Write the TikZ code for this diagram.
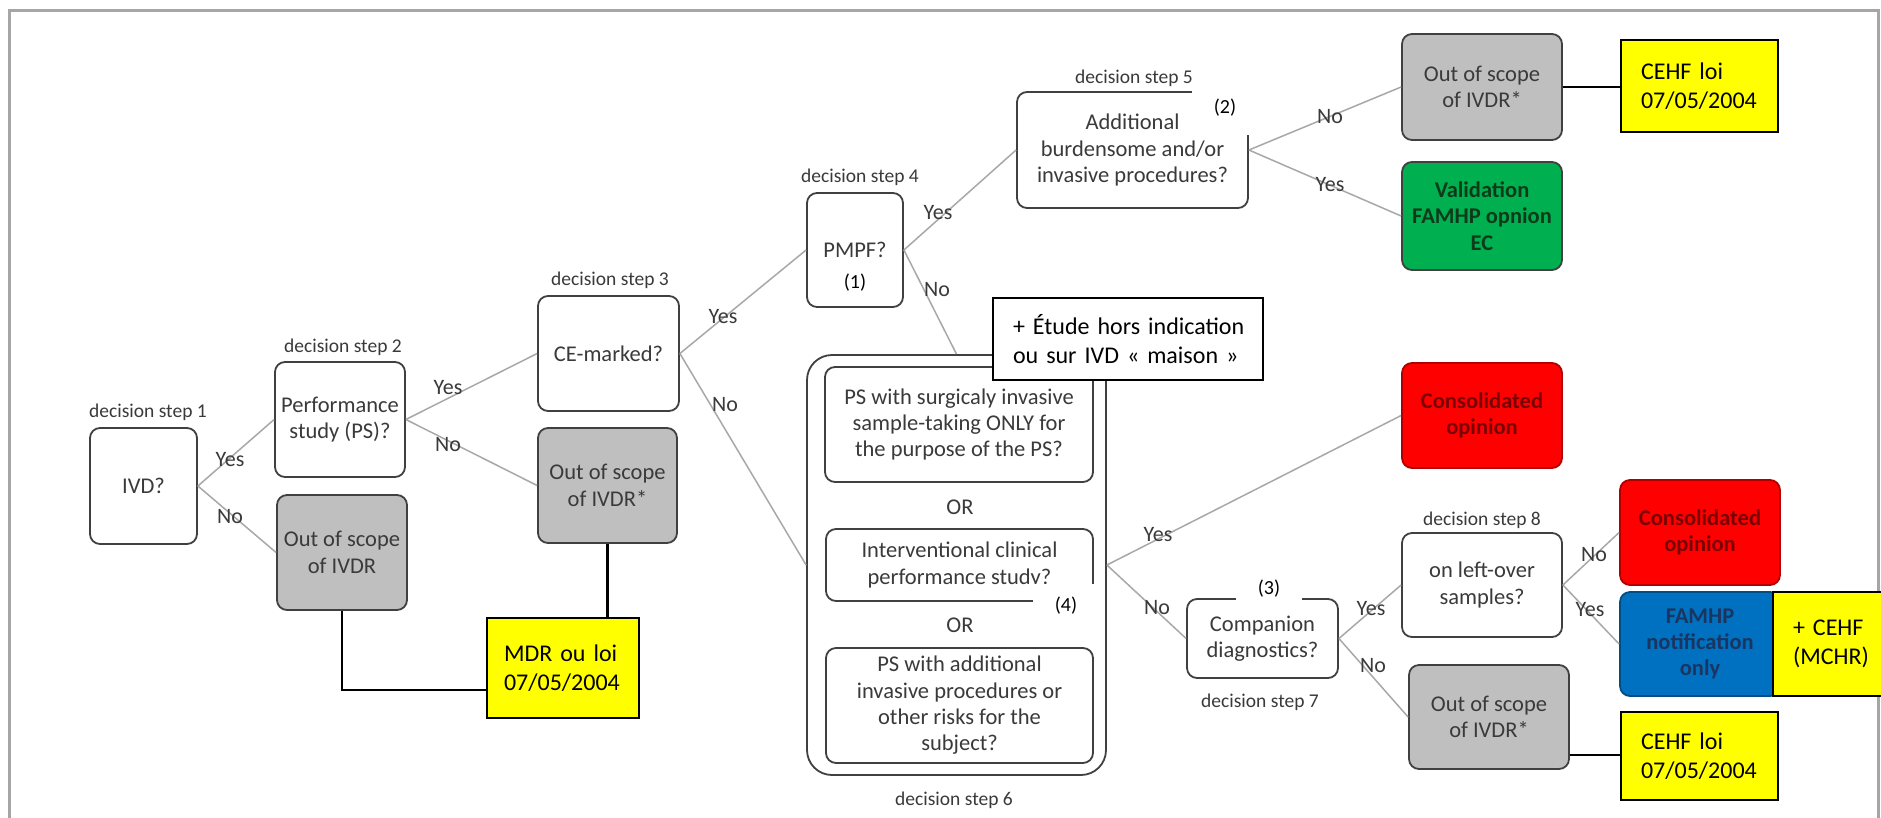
\documentclass[tikz,border=0pt]{standalone}
\usepackage{fontspec}
\setmainfont{Carlito}
\definecolor{framec}{HTML}{A6A6A6}
\definecolor{bordc}{HTML}{404040}
\definecolor{linec}{HTML}{A8A8A8}
\definecolor{txtc}{HTML}{3A3A3A}
\definecolor{grayf}{HTML}{BFBFBF}
\definecolor{greenf}{HTML}{00B050}
\definecolor{greent}{HTML}{0D3B1A}
\definecolor{redf}{HTML}{FF0000}
\definecolor{redt}{HTML}{7A0000}
\definecolor{bluef}{HTML}{0070C0}
\definecolor{bluet}{HTML}{1A3560}
\definecolor{yellowf}{HTML}{FFFF00}
\newcommand{\fsmain}{\fontsize{22.5}{26.3}\selectfont}
\newcommand{\fslab}{\fontsize{19.5}{22}\selectfont}
\newcommand{\fsyn}{\fontsize{22}{24}\selectfont}
\newcommand{\fsnote}{\fontsize{24}{29.5}\selectfont}
\newcommand{\fsnum}{\fontsize{20}{22}\selectfont}
\tikzset{
  box/.style={draw=bordc, line width=1.8pt, rounded corners=10pt, fill=white,
    align=center, inner sep=0pt, text=txtc, font=\fsmain},
  sz/.style 2 args={minimum width=#1pt, minimum height=#2pt},
  grb/.style={box, fill=grayf},
  grnb/.style={box, fill=greenf, text=greent, font=\fsmain\bfseries},
  redb/.style={box, fill=redf, draw=redf!70!black, text=redt, font=\fsmain\bfseries},
  blub/.style={box, fill=bluef, draw=bluef!70!black, text=bluet, font=\fsmain\bfseries},
  steplab/.style={font=\fslab, text=txtc, inner sep=0pt},
  yn/.style={font=\fsyn, text=txtc, inner sep=0pt},
  ortxt/.style={font=\fsmain, text=txtc, inner sep=0pt},
  conn/.style={draw=linec, line width=1.5pt},
  blk/.style={draw=black, line width=2.5pt},
  ybox/.style={draw=black, line width=1.3pt, fill=yellowf, align=left,
    inner ysep=0pt, font=\fsnote, text=black},
  patch/.style={fill=white, inner sep=0pt, font=\fsnum, text=black},
}
\begin{document}
\begin{tikzpicture}[x=1pt,y=-1pt]
\useasboundingbox (0,0) rectangle (1881,817);
\fill[white] (0,0) rectangle (1881,817);
\draw[framec, line width=3pt] (9,830) -- (9,10) -- (1878,10) -- (1878,830);

% decision step labels
\node[steplab] (l1) at (148,412) {decision step 1};
\node[steplab] (l2) at (343,347) {decision step 2};
\node[steplab] (l3) at (610,280) {decision step 3};
\node[steplab] (l4) at (860,177) {decision step 4};
\node[steplab] (l5) at (1134,78) {decision step 5};
\node[steplab] (l6) at (954,800) {decision step 6};
\node[steplab] (l7) at (1260,702) {decision step 7};
\node[steplab] (l8) at (1482,520) {decision step 8};

% main boxes
\node[box, sz={107}{116}] (ivd) at (143.5,486) {IVD?};
\node[box, sz={130}{115}] (ps) at (340,419.5) {Performance\\study (PS)?};
\node[grb, sz={130}{115}] (gl) at (342,552.5) {Out of scope\\of IVDR};
\node[box, sz={141}{115}] (ce) at (608.5,353.5) {CE-marked?};
\node[grb, sz={139}{115}] (gs) at (607.5,485.5) {Out of scope\\of IVDR*};
\node[box, sz={96}{114}] (pmpf) at (855,250) {PMPF?};
\node[inner sep=0pt, font=\fsnum, text=black] (n1) at (855,283) {(1)};
\node[box, sz={231}{116}] (add) at (1132.5,150) {Additional\\burdensome and/or\\invasive procedures?};
\node[grb, sz={160}{106}] (gtr) at (1482,87) {Out of scope\\of IVDR*};
\node[grnb, sz={160}{108}] (grn) at (1482,216) {Validation\\FAMHP opnion\\EC};

% decision step 6 group
\node[box, rounded corners=25pt, sz={299}{420}] (big) at (956.5,565) {};
\node[box, sz={268}{115}] (ba) at (959,424.5) {PS with surgicaly invasive\\sample-taking ONLY for\\the purpose of the PS?};
\node[ortxt] (or1) at (960,507) {OR};
\node[box, sz={267}{72}] (bb) at (959.5,565) {Interventional clinical\\performance study?};
\node[ortxt] (or2) at (960,625) {OR};
\node[box, sz={267}{115}] (bc) at (959.5,705.5) {PS with additional\\invasive procedures or\\other risks for the\\subject?};

\node[redb, sz={160}{105}] (red1) at (1482,415.5) {Consolidated\\opinion};
\node[box, sz={151}{79}] (comp) at (1262.5,638.5) {Companion\\diagnostics?};
\node[box, sz={160}{104}] (left) at (1482,585) {on left-over\\samples?};
\node[grb, sz={160}{104}] (gbr) at (1489,717) {Out of scope\\of IVDR*};
\node[redb, sz={160}{105}] (red2) at (1700,532.5) {Consolidated\\opinion};
\node[blub, sz={160}{104}] (blue) at (1700,644) {FAMHP\\notification\\only};

% connectors
\draw[conn] (ivd.east) -- (ps.west);
\draw[conn] (ivd.east) -- (gl.west);
\draw[conn] (ps.east) -- (ce.west);
\draw[conn] (ps.east) -- (gs.west);
\draw[conn] (ce.east) -- (pmpf.west);
\draw[conn] (ce.east) -- (big.west);
\draw[conn] (pmpf.east) -- (add.west);
\draw[conn] (pmpf.east) -- (big.north);
\draw[conn] (add.east) -- (gtr.west);
\draw[conn] (add.east) -- (grn.west);
\draw[conn] (big.east) -- (red1.west);
\draw[conn] (big.east) -- (comp.west);
\draw[conn] (comp.east) -- (left.west);
\draw[conn] (comp.east) -- (gbr.west);
\draw[conn] (left.east) -- (red2.west);
\draw[conn] (left.east) -- (blue.west);

% yes / no labels
\node[yn] (y1) at (230,460) {Yes};
\node[yn] (no1) at (230,517) {No};
\node[yn] (y2) at (448,388) {Yes};
\node[yn] (no2) at (448,445) {No};
\node[yn] (y3) at (723,317) {Yes};
\node[yn] (no3) at (725,405) {No};
\node[yn] (y4) at (938,213) {Yes};
\node[yn] (no4) at (937,290) {No};
\node[yn] (no5) at (1330,117) {No};
\node[yn] (y5) at (1330,185) {Yes};
\node[yn] (y6) at (1158,535) {Yes};
\node[yn] (no6) at (1157,608) {No};
\node[yn] (y7) at (1371,609) {Yes};
\node[yn] (no7) at (1373,666) {No};
\node[yn] (no8) at (1594,555) {No};
\node[yn] (y8) at (1590,610) {Yes};

% annotation patches
\node[patch, sz={66}{54}] (p2) at (1225,108) {(2)};
\node[patch, sz={66}{38}] (p3) at (1269,589) {(3)};
\node[patch, sz={67}{44}] (p4) at (1066,606) {(4)};

% callout
\node[ybox, fill=white, inner xsep=20pt, text width=230pt, minimum height=82pt] (etude) at (1128,339)
  {\mbox{+ Étude hors indication}\\\mbox{ou sur IVD « maison »}};

% yellow notes
\node[ybox, inner xsep=20pt, text width=117pt, minimum height=92pt] (ctop) at (1699.5,86) {\mbox{CEHF loi}\\\mbox{07/05/2004}};
\node[ybox, inner xsep=20pt, text width=117pt, minimum height=88pt] (cbot) at (1699.5,756) {\mbox{CEHF loi}\\\mbox{07/05/2004}};
\node[ybox, inner xsep=20pt, text width=80pt, minimum height=104pt] (mchr) at (1833,644) {\mbox{+ CEHF}\\\mbox{(MCHR)}};
\node[ybox, inner xsep=17pt, text width=118pt, minimum height=100pt] (mdr) at (563,668) {\mbox{MDR ou loi}\\\mbox{07/05/2004}};

\draw[blk] (gtr.east) -- (gtr.east -| ctop.west);
\draw[blk] ([yshift=-38pt]gbr.east) -- ([yshift=-38pt]gbr.east -| cbot.west);
\draw[blk] (gs.south) -- (gs.south |- mdr.north);
\draw[blk] (gl.south) |- ([yshift=-22pt]mdr.west);
\end{tikzpicture}
\end{document}
